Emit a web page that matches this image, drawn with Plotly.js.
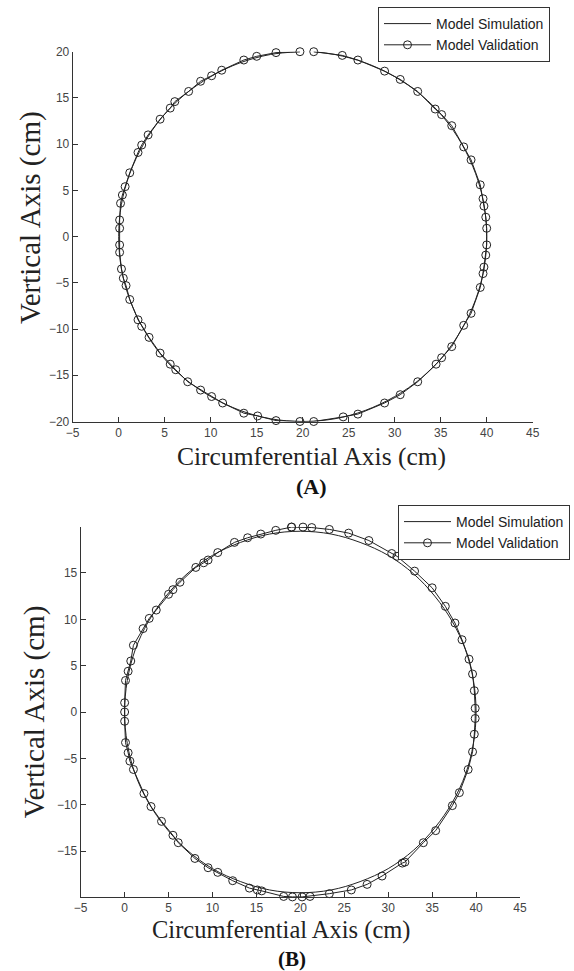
<!DOCTYPE html>
<html>
<head>
<meta charset="utf-8">
<script src="https://cdn.plot.ly/plotly-3.0.1.min.js"></script>
<style>html,body{margin:0;padding:0;background:#fff;}#chart{width:574px;height:971px;}</style>
</head>
<body>
<div id="chart"></div>
<script>
// ---------- Panel (A) ----------
const simA_x = [21.2, 23.5, 26.8, 30.0, 32.9, 35.3, 37.3, 38.8, 39.7, 40.0, 39.7, 38.8, 37.3, 35.3, 32.9, 30.0, 26.8, 23.5, 20.0, 16.5, 13.2, 10.0, 7.1, 4.7, 2.7, 1.2, 0.3, 0.0, 0.3, 1.2, 2.7, 4.7, 7.1, 10.0, 13.2, 16.5, 19.7];
const simA_y = [20.0, 19.7, 18.8, 17.3, 15.3, 12.9, 10.0, 6.8, 3.5, 0.0, -3.5, -6.8, -10.0, -12.9, -15.3, -17.3, -18.8, -19.7, -20.0, -19.7, -18.8, -17.3, -15.3, -12.9, -10.0, -6.8, -3.5, 0.0, 3.5, 6.8, 10.0, 12.9, 15.3, 17.3, 18.8, 19.7, 20.0];

const valA_x = [21.2, 24.3, 26.0, 28.9, 30.6, 32.5, 34.4, 35.1, 36.2, 37.5, 38.3, 39.3, 39.6, 39.7, 39.9, 40.0,
  40.0, 39.9, 39.7, 39.6, 39.3, 38.3, 37.5, 36.2, 35.1, 34.5, 32.5, 30.6, 28.9, 26.0, 24.4, 21.2, 19.7,
  17.1, 15.1, 13.6, 11.3, 10.1, 8.9, 7.5, 6.2, 5.6, 4.5, 3.3, 2.5, 2.1, 1.2, 0.8, 0.5, 0.3, 0.1, 0.1,
  0.1, 0.1, 0.2, 0.4, 0.7, 1.2, 2.1, 2.5, 3.2, 4.5, 5.6, 6.1, 7.6, 8.9, 10.1, 11.2, 13.6, 15.0, 17.1, 19.7];
const valA_y = [20.0, 19.6, 19.1, 17.9, 17.0, 15.7, 13.8, 13.2, 12.0, 9.7, 8.3, 5.6, 4.1, 3.3, 2.1, 0.9,
  -0.9, -2.0, -3.3, -4.0, -5.5, -8.3, -9.6, -11.9, -13.1, -13.8, -15.7, -17.1, -18.0, -19.2, -19.5, -20.0, -20.0,
  -19.9, -19.4, -19.1, -18.0, -17.3, -16.6, -15.7, -14.4, -13.8, -12.6, -10.9, -9.7, -9.0, -6.8, -5.3, -4.5, -3.5, -1.7, -0.9,
  0.9, 1.8, 3.6, 4.5, 5.4, 6.9, 9.1, 9.9, 11.0, 12.7, 13.9, 14.6, 15.7, 16.8, 17.4, 18.0, 19.1, 19.5, 19.9, 20.0];

// ---------- Panel (B) ----------
const simB_x = [20.0, 23.5, 26.8, 30.0, 32.9, 35.3, 37.3, 38.8, 39.7, 40.0, 39.7, 38.8, 37.3, 35.3, 32.9, 30.0, 26.8, 23.5, 20.0, 16.5, 13.2, 10.0, 7.1, 4.7, 2.7, 1.2, 0.3, 0.0, 0.3, 1.2, 2.7, 4.7, 7.1, 10.0, 13.2, 16.5, 20.0];
const simB_y = [19.5, 19.2, 18.3, 16.9, 14.9, 12.5, 9.75, 6.7, 3.4, 0.0, -3.4, -6.7, -9.75, -12.5, -14.9, -16.9, -18.3, -19.2, -19.5, -19.2, -18.3, -16.9, -14.9, -12.5, -9.75, -6.7, -3.4, 0.0, 3.4, 6.7, 9.75, 12.5, 14.9, 16.9, 18.3, 19.2, 19.5];

const valB_x = [19.0, 20.3, 21.3, 23.3, 25.5, 27.8, 30.4, 31.0, 33.0, 35.0, 36.5, 37.6, 38.4, 39.2, 39.6, 39.8, 39.9,
  39.9, 39.8, 39.6, 39.1, 38.1, 37.3, 35.4, 34.0, 31.9, 31.6, 29.3, 27.6, 25.8, 23.3, 21.1, 20.2, 19.1, 18.1,
  15.6, 15.1, 14.2, 12.3, 10.6, 9.5, 8.0, 6.1, 5.5, 4.2, 3.0, 2.2, 1.0, 0.6, 0.4, 0.1, 0.0,
  0.0, 0.0, 0.1, 0.4, 0.7, 1.0, 2.1, 2.8, 3.6, 5.0, 5.5, 6.3, 8.1, 9.0, 9.5, 10.6, 12.5, 14.0, 15.5, 17.2, 19.0];
const valB_y = [19.95, 19.95, 19.9, 19.7, 19.3, 18.5, 17.1, 16.8, 15.2, 13.4, 11.4, 9.6, 7.8, 5.7, 4.1, 2.3, 0.4,
  -0.7, -2.4, -4.3, -6.2, -8.7, -10.1, -12.8, -14.1, -16.2, -16.3, -17.7, -18.6, -19.2, -19.6, -19.9, -19.95, -19.95, -19.9,
  -19.3, -19.2, -19.0, -18.2, -17.3, -16.8, -15.8, -14.1, -13.3, -11.8, -10.2, -8.8, -6.2, -5.3, -4.4, -3.3, -1.0,
  0.0, 1.0, 3.4, 4.4, 5.5, 7.2, 9.0, 10.1, 11.0, 12.7, 13.2, 14.0, 15.6, 16.1, 16.4, 17.2, 18.3, 18.8, 19.2, 19.6, 19.95];

const seriesNames = ["Model Simulation", "Model Validation"];
const xTicks = [-5, 0, 5, 10, 15, 20, 25, 30, 35, 40, 45];
const yTicksA = [-20, -15, -10, -5, 0, 5, 10, 15, 20];
const yTicksB = [-15, -10, -5, 0, 5, 10, 15];
const xTitle = "Circumferential Axis (cm)";
const yTitle = "Vertical Axis (cm)";
const panelLabels = ["(A)", "(B)"];

const W = 574, H = 971;
const lineCol = "#222";
const serif = "'Times New Roman', 'Liberation Serif', serif";
const sans = "Arial, 'Liberation Sans', sans-serif";

function simTrace(x, y, xa, ya, leg) {
  return {x: x, y: y, xaxis: xa, yaxis: ya, type: "scatter", mode: "lines",
    name: seriesNames[0], legend: leg, legendgroup: leg + "s", cliponaxis: false,
    line: {color: lineCol, width: 1, shape: "spline", smoothing: 1}};
}
function valTrace(x, y, xa, ya, leg) {
  return {x: x, y: y, xaxis: xa, yaxis: ya, type: "scatter", mode: "lines+markers",
    name: seriesNames[1], legend: leg, legendgroup: leg + "v", cliponaxis: false,
    line: {color: lineCol, width: 1},
    marker: {symbol: "circle-open", size: 8, color: lineCol, line: {color: lineCol, width: 1}}};
}

const data = [
  simTrace(simA_x, simA_y, "x", "y", "legend"),
  valTrace(valA_x, valA_y, "x", "y", "legend"),
  simTrace(simB_x, simB_y, "x2", "y2", "legend2"),
  valTrace(valB_x, valB_y, "x2", "y2", "legend2")
];

function px2paperX(p) { return p / W; }
function px2paperY(p) { return (H - p) / H; }

function xAxis(domain, anchor) {
  return {domain: domain, anchor: anchor, range: [-5, 45], tickvals: xTicks,
    showline: true, linecolor: "#333", linewidth: 1, mirror: false,
    ticks: "inside", ticklen: 5, tickcolor: "#333", showgrid: false, zeroline: false,
    tickfont: {family: sans, size: 12, color: "#444"},
    title: {text: ""}};
}
function yAxis(domain, anchor, range, ticks, title) {
  return {domain: domain, anchor: anchor, range: range, tickvals: ticks,
    showline: true, linecolor: "#333", linewidth: 1, mirror: false,
    ticks: "inside", ticklen: 5, tickcolor: "#333", showgrid: false, zeroline: false,
    tickfont: {family: sans, size: 12, color: "#444"},
    title: {text: title, font: {family: serif, size: 29, color: "#222"}, standoff: 3}};
}

const legendBase = {bgcolor: "#fff", bordercolor: "#333", borderwidth: 1,
  font: {family: sans, size: 14, color: "#222"}, xanchor: "right", yanchor: "top",
  tracegroupgap: 0, itemwidth: 47};

function textAnn(text, xp, yp, size, angle, bold) {
  return {text: bold ? "<b>" + text + "</b>" : text, xref: "paper", yref: "paper",
    x: px2paperX(xp), y: px2paperY(yp), textangle: angle || 0,
    xanchor: "center", yanchor: "middle", showarrow: false, borderpad: 0,
    font: {family: serif, size: size, color: bold ? "#111" : "#222"}};
}

const layout = {
  width: W, height: H,
  margin: {l: 0, r: 0, t: 0, b: 0},
  paper_bgcolor: "#fff", plot_bgcolor: "#fff",
  showlegend: true,
  xaxis: xAxis([px2paperX(72.7), px2paperX(532.7)], "y"),
  yaxis: yAxis([px2paperY(421.5), px2paperY(51.7)], "x", [-20, 20], yTicksA, ""),
  xaxis2: xAxis([px2paperX(80.7), px2paperX(520)], "y2"),
  yaxis2: yAxis([px2paperY(897), px2paperY(527)], "x2", [-19.96, 19.96], yTicksB, yTitle),
  legend: Object.assign({}, legendBase, {x: px2paperX(550), y: px2paperY(7)}),
  legend2: Object.assign({}, legendBase, {x: px2paperX(570), y: px2paperY(505)}),
  annotations: [
    textAnn(yTitle, 30, 218, 29, -90, false),
    textAnn(xTitle, 311, 456, 25.5, 0, false),
    textAnn(panelLabels[0], 311, 486, 22, 0, true),
    textAnn(xTitle, 281, 930, 24.5, 0, false),
    textAnn(panelLabels[1], 292, 959, 21, 0, true)
  ]
};

Plotly.newPlot("chart", data, layout, {displayModeBar: false, staticPlot: true});
</script>
</body>
</html>
